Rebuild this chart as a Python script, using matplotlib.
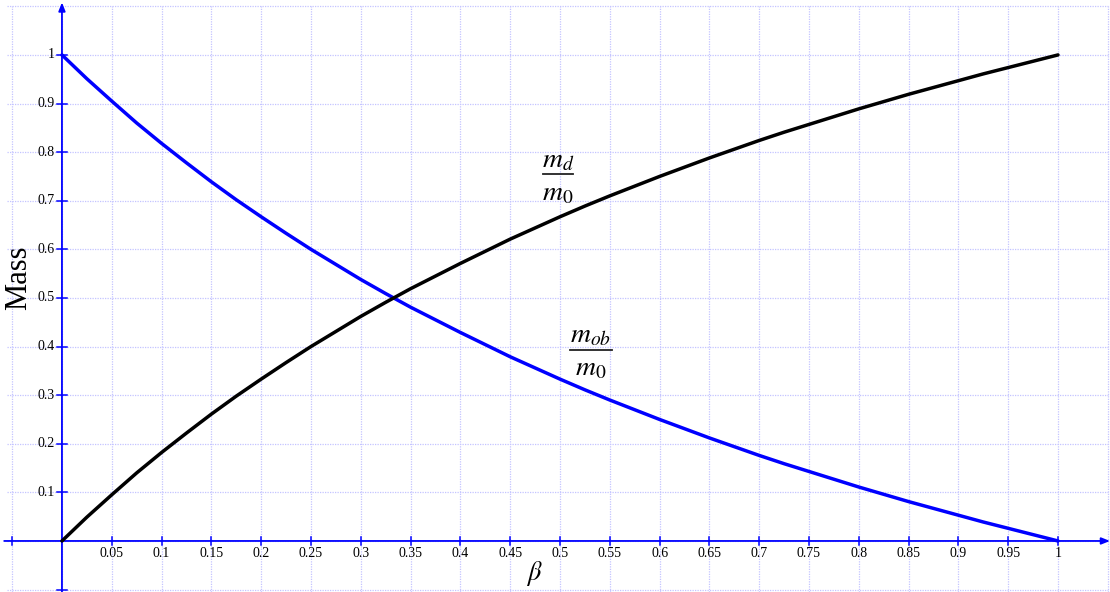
import matplotlib
matplotlib.use("Agg")
import matplotlib.pyplot as plt
import numpy as np

# data
beta = [0.0, 0.025, 0.05, 0.075, 0.1, 0.125, 0.15, 0.175, 0.2, 0.225, 0.25,
        0.275, 0.3, 0.325, 0.35, 0.375, 0.4, 0.425, 0.45, 0.475, 0.5,
        0.525, 0.55, 0.575, 0.6, 0.625, 0.65, 0.675, 0.7, 0.725, 0.75,
        0.775, 0.8, 0.825, 0.85, 0.875, 0.9, 0.925, 0.95, 0.975, 1.0]
m_d = [0.0, 0.049, 0.095, 0.140, 0.182, 0.222, 0.261, 0.298, 0.333, 0.367, 0.400,
       0.431, 0.462, 0.491, 0.519, 0.545, 0.571, 0.596, 0.621, 0.644, 0.667,
       0.689, 0.710, 0.730, 0.750, 0.769, 0.788, 0.806, 0.824, 0.841, 0.857,
       0.873, 0.889, 0.904, 0.919, 0.933, 0.947, 0.961, 0.974, 0.987, 1.0]
m_ob = [1.0, 0.951, 0.905, 0.860, 0.818, 0.778, 0.739, 0.702, 0.667, 0.633, 0.600,
        0.569, 0.538, 0.509, 0.481, 0.455, 0.429, 0.404, 0.379, 0.356, 0.333,
        0.311, 0.290, 0.270, 0.250, 0.231, 0.212, 0.194, 0.176, 0.159, 0.143,
        0.127, 0.111, 0.096, 0.081, 0.067, 0.053, 0.039, 0.026, 0.013, 0.0]
x_ticks = [0.05, 0.1, 0.15, 0.2, 0.25, 0.3, 0.35, 0.4, 0.45, 0.5,
           0.55, 0.6, 0.65, 0.7, 0.75, 0.8, 0.85, 0.9, 0.95, 1]
y_ticks = [0.1, 0.2, 0.3, 0.4, 0.5, 0.6, 0.7, 0.8, 0.9, 1]

plt.rcParams['mathtext.fontset'] = 'stix'

fig = plt.figure(figsize=(11.10, 5.92), dpi=100)
ax = fig.add_axes([0, 0, 1, 1])
ax.set_xlim(-0.0622, 1.0522)
ax.set_ylim(-0.105, 1.113)
ax.axis('off')

grid_c = '#c4c4ff'
for gx in np.arange(-0.05, 1.051, 0.05):
    ax.plot([gx, gx], [-0.105, 1.1], color=grid_c, lw=0.9, ls=(0, (1, 1)), zorder=1)
for gy in np.arange(-0.1, 1.101, 0.1):
    ax.plot([-0.0555, 1.05], [gy, gy], color=grid_c, lw=0.9, ls=(0, (1, 1)), zorder=1)

axc = '#0000ff'
ax.annotate('', xy=(1.0522, 0), xytext=(-0.058, 0),
            arrowprops=dict(arrowstyle='-|>,head_length=0.5,head_width=0.2', color=axc,
                            lw=1.3, shrinkA=0, shrinkB=0), zorder=3)
ax.annotate('', xy=(0, 1.108), xytext=(0, -0.105),
            arrowprops=dict(arrowstyle='-|>,head_length=0.5,head_width=0.2', color=axc,
                            lw=1.3, shrinkA=0, shrinkB=0), zorder=3)

for t in x_ticks + [-0.05]:
    ax.plot([t, t], [-0.009, 0.009], color=axc, lw=1.1, zorder=3)
for t in y_ticks + [-0.1]:
    ax.plot([-0.005, 0.005], [t, t], color=axc, lw=1.1, zorder=3)

for t in x_ticks:
    ax.text(t, -0.013, '%g' % t, ha='center', va='top', fontsize=10,
            family='Liberation Serif', color='black')
for t in y_ticks:
    ax.text(-0.007, t, '%g' % t, ha='right', va='center', fontsize=10,
            family='Liberation Serif', color='black')

ax.plot(beta, m_ob, color='#0000ff', lw=2.5, zorder=4, solid_capstyle='round')
ax.plot(beta, m_d, color='black', lw=2.5, zorder=5, solid_capstyle='round')

# fraction labels
fs = 20
ax.text(0.498, 0.7695, r'$m_d$', fontsize=fs, ha='center', va='baseline')
ax.plot([0.4829, 0.5131], [0.7551, 0.7551], color='#222222', lw=1.3)
ax.text(0.498, 0.7016, r'$m_0$', fontsize=fs, ha='center', va='baseline')

ax.text(0.5311, 0.4095, r'$m_{ob}$', fontsize=fs, ha='center', va='baseline')
ax.plot([0.510, 0.552], [0.393, 0.393], color='#222222', lw=1.3)
ax.text(0.5311, 0.3416, r'$m_0$', fontsize=fs, ha='center', va='baseline')

ax.text(-0.0432, 0.541, 'Mass', rotation=90, ha='center', va='center',
        fontsize=22, family='Liberation Serif')
ax.text(0.474, -0.066, r'$\beta$', ha='center', va='center', fontsize=19)

fig.savefig('out.png', dpi=100)
